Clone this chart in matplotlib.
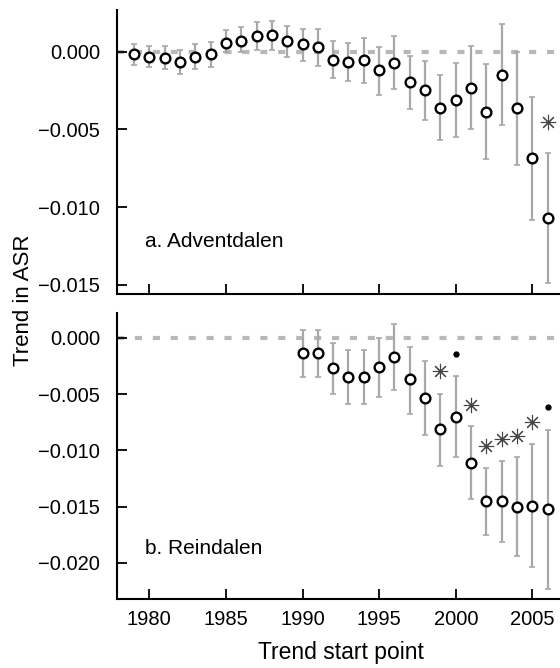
import numpy as np
import matplotlib
matplotlib.use('Agg')
import matplotlib.pyplot as plt

# Adventdalen (a)
years_a = list(range(1979, 2007))
trend_a = [-0.00015, -0.0003, -0.0004, -0.00065, -0.0003, -0.00015, 0.0006, 0.0007,
           0.001, 0.0011, 0.0007, 0.0005, 0.0003, -0.0005, -0.00065, -0.00054,
           -0.00118, -0.00071, -0.00196, -0.00245, -0.00363, -0.0031, -0.0023,
           -0.00387, -0.00146, -0.00363, -0.00682, -0.0107]
upper_a = [0.0005, 0.0004, 0.0004, 0.00013, 0.0005, 0.00065, 0.0014, 0.0016,
           0.0019, 0.002, 0.0017, 0.0015, 0.0015, 0.0007, 0.0006, 0.0009,
           0.0003, 0.001, -0.00025, -0.0006, -0.0015, -0.0007, 0.0004,
           -0.0008, 0.0018, 0.0, -0.0029, -0.0065]
lower_a = [-0.00085, -0.001, -0.0011, -0.0014, -0.0011, -0.001, 0.0, 0.0,
           0.0001, 0.0001, -0.0003, -0.0006, -0.0009, -0.0017, -0.0019, -0.002,
           -0.0028, -0.0024, -0.0037, -0.0044, -0.0057, -0.0055, -0.0050,
           -0.0069, -0.0047, -0.0073, -0.0108, -0.0149]
star_a_x = [2006]
star_a_y = [-0.00454]

# Reindalen (b)
years_b = list(range(1990, 2007))
trend_b = [-0.00135, -0.00135, -0.0027, -0.00348, -0.00348, -0.0026, -0.0017,
           -0.0037, -0.00537, -0.00814, -0.00702, -0.0111, -0.0145, -0.0145,
           -0.0150, -0.0149, -0.0152]
upper_b = [0.0007, 0.0007, -0.0005, -0.0011, -0.0011, -0.00003, 0.0012,
           -0.0008, -0.0021, -0.005, -0.0034, -0.0078, -0.0116, -0.0109,
           -0.0106, -0.0094, -0.0082]
lower_b = [-0.0035, -0.0035, -0.005, -0.0059, -0.0059, -0.0053, -0.0046,
           -0.0068, -0.0086, -0.0114, -0.0106, -0.0143, -0.0175, -0.0181,
           -0.0194, -0.0204, -0.0223]
star_b_x = [1999, 2001, 2002, 2003, 2004, 2005]
star_b_y = [-0.00298, -0.00593, -0.00958, -0.00903, -0.0087, -0.0075]
dot_b_x = [2000, 2006]
dot_b_y = [-0.00148, -0.00617]

plt.rcParams['font.family'] = ['Liberation Sans', 'DejaVu Sans']

fig = plt.figure(figsize=(5.6, 6.68), dpi=100)
ax1 = fig.add_axes([0.209, 1 - 294 / 668, 0.791, (294 - 10) / 668])
ax2 = fig.add_axes([0.209, 1 - 599 / 668, 0.791, (599 - 313) / 668])

asterisk = (8, 2, 0)


def draw_panel(ax, x, y, lo, hi, label, label_y):
    x = np.array(x)
    y = np.array(y)
    err = [y - np.array(lo), np.array(hi) - y]
    ax.axhline(0, color='#b8b8b8', lw=3, dashes=(1.7, 2.6), zorder=1)
    ax.errorbar(x, y, yerr=err, fmt='none', ecolor='#a8a8a8', elinewidth=1.6,
                capsize=2, capthick=1.2, zorder=2)
    ax.plot(x, y, 'o', ms=7, mfc='white', mec='black', mew=1.7, zorder=3)
    for s in ['top', 'right']:
        ax.spines[s].set_visible(False)
    for s in ['left', 'bottom']:
        ax.spines[s].set_linewidth(1.5)
    ax.tick_params(direction='in', length=7, width=1.3, labelsize=14.5)
    ax.tick_params(axis='y', pad=12)
    ax.tick_params(axis='x', pad=8)
    ax.set_xlim(1977.9, 2006.8)
    ax.set_xticks([1980, 1985, 1990, 1995, 2000, 2005])
    ax.text(1979.7, label_y, label, fontsize=15)


draw_panel(ax1, years_a, trend_a, lower_a, upper_a, 'a. Adventdalen', -0.0126)
ax1.plot(star_a_x, star_a_y, ls='none', marker=asterisk, ms=11, mec='#444444', mew=0.8)
ax1.set_ylim(-0.0156, 0.0027)
ax1.set_yticks([0.0, -0.005, -0.010, -0.015])
ax1.set_yticklabels(['0.000', '\u22120.005', '\u22120.010', '\u22120.015'])
ax1.tick_params(axis='x', labelbottom=False)

draw_panel(ax2, years_b, trend_b, lower_b, upper_b, 'b. Reindalen', -0.0192)
ax2.plot(star_b_x, star_b_y, ls='none', marker=asterisk, ms=11, mec='#444444', mew=0.8)
ax2.plot(dot_b_x, dot_b_y, 'o', ms=3.5, color='black')
ax2.set_ylim(-0.0232, 0.0022)
ax2.set_yticks([0.0, -0.005, -0.010, -0.015, -0.020])
ax2.set_yticklabels(['0.000', '\u22120.005', '\u22120.010', '\u22120.015', '\u22120.020'])

fig.text(341 / 560, 1 - 653 / 668, 'Trend start point', fontsize=16.5,
         ha='center', va='center')
fig.text(24 / 560, 1 - 300 / 668, 'Trend in ASR', rotation=90,
         fontsize=16, ha='center', va='center')

fig.savefig('out.png', dpi=100)
